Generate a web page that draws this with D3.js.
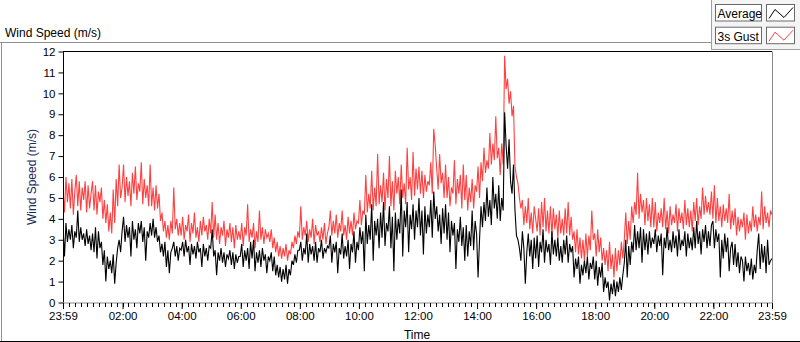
<!DOCTYPE html>
<html><head><meta charset="utf-8">
<script src="https://cdn.jsdelivr.net/npm/d3@7"></script>
<style>
html,body{margin:0;padding:0;background:#fff;}
svg{display:block;font-family:"Liberation Sans",Arial,sans-serif;}
</style></head>
<body><svg id="c" width="800" height="342"></svg>
<script>
// ---- data: values every 3 minutes from 23:59 to 23:59 next day (20 per hour) ----
const gust = [
 5.4,4.3,6.0,4.8,5.7,4.5,5.9,4.2,5.3,6.1,4.6,5.8,4.4,5.5,4.9,5.8,4.3,5.6,4.5,5.2,
 5.8,4.4,5.6,4.2,5.3,4.8,5.5,4.0,4.9,3.8,4.7,3.4,4.3,3.3,5.4,3.8,5.9,4.6,6.6,5.0,
 5.5,6.6,4.8,6.0,5.1,5.8,4.6,6.2,5.2,6.5,4.9,5.7,5.3,6.7,4.7,5.9,5.0,5.6,4.6,6.6,
 4.6,5.5,4.4,5.6,4.5,5.2,3.9,4.3,3.4,3.9,3.1,3.7,3.0,3.9,3.3,5.5,3.5,4.0,3.2,3.8,
 3.2,4.1,3.0,3.7,3.4,4.2,2.9,3.8,3.3,4.3,3.1,3.6,2.9,3.9,3.2,4.1,3.4,3.7,3.0,4.0,
 3.3,4.8,3.1,4.2,3.0,3.8,2.8,3.6,3.2,3.9,2.7,3.5,3.1,3.8,2.9,3.6,2.6,3.7,3.0,3.4,
 3.0,3.8,2.7,3.6,3.2,4.7,2.9,3.5,3.1,3.8,2.6,3.4,2.9,4.4,3.0,3.6,2.8,3.5,3.1,3.3,
 2.9,3.5,2.6,3.1,2.4,2.9,2.2,2.7,2.1,2.6,2.2,2.8,2.0,2.5,2.3,2.9,2.6,3.2,2.8,3.4,
 3.1,4.6,3.0,3.6,3.2,3.9,2.9,3.5,3.1,4.0,2.8,3.7,3.2,3.4,2.9,3.6,3.0,3.8,2.8,3.3,
 3.6,4.4,3.2,3.9,3.3,4.2,3.1,3.8,3.4,4.4,3.2,3.7,3.0,4.1,3.3,3.9,3.2,4.3,3.5,3.9,
 3.8,4.9,3.7,4.4,4.2,6.1,4.3,5.2,4.5,6.3,4.4,5.5,4.6,7.1,4.7,5.6,4.8,6.2,4.4,5.9,
 5.0,7.0,4.6,5.8,4.4,6.3,5.2,6.0,4.7,6.6,5.0,5.7,4.7,7.4,5.4,6.0,4.9,7.2,5.1,6.4,
 5.4,6.5,5.2,6.3,5.0,6.1,5.3,5.8,5.6,6.7,5.2,8.3,7.5,6.4,5.4,7.1,5.7,6.2,5.0,6.6,
 5.0,6.0,4.6,5.5,5.2,6.8,4.7,5.9,5.2,6.1,4.5,6.6,4.9,6.1,4.4,5.5,4.8,5.9,4.5,5.6,
 5.3,6.5,5.0,6.7,5.8,7.4,6.2,6.8,6.4,8.1,6.6,7.6,6.8,8.9,6.9,7.4,6.1,7.6,6.6,11.8,
 10.2,10.7,9.5,10.1,8.9,9.4,6.5,6.0,5.7,5.0,4.5,4.9,3.7,4.6,3.8,5.0,3.5,4.3,3.3,4.6,
 4.0,3.4,4.5,3.2,4.8,3.6,5.0,3.4,4.4,3.3,4.6,3.2,4.5,3.5,4.2,3.1,4.4,3.3,4.0,3.2,
 4.5,3.3,4.8,3.2,4.1,3.0,3.4,2.4,3.5,2.3,3.1,2.1,3.0,2.0,3.3,2.2,3.2,2.5,4.4,3.0,
 3.3,2.2,3.5,2.4,3.1,2.0,2.6,1.8,2.5,1.5,2.9,1.6,2.3,1.2,2.6,1.5,2.5,1.8,2.9,2.1,
 3.0,4.3,2.8,3.9,3.0,4.6,3.8,4.8,4.2,6.2,4.0,5.2,4.3,4.9,3.7,5.0,3.9,4.7,3.6,5.0,
 3.6,4.8,3.4,4.3,3.8,4.5,3.6,5.0,3.5,4.4,3.3,4.6,3.7,4.2,3.8,4.7,3.4,4.5,3.8,4.3,
 3.5,4.9,3.7,4.5,3.6,4.4,3.4,4.8,3.9,5.0,3.7,4.6,4.0,5.5,4.2,5.1,4.3,4.8,4.2,5.3,
 4.0,5.6,3.8,5.0,3.9,4.6,3.6,4.7,3.9,4.5,3.8,5.2,3.5,4.4,3.7,4.5,3.2,4.1,3.4,4.0,
 3.6,4.3,3.0,4.2,3.3,3.9,3.4,4.6,3.6,4.2,3.4,4.1,3.7,5.3,3.5,4.6,3.8,4.3,3.6,4.4,
 4.2];
const average = [
 3.6,2.2,3.8,2.9,3.5,3.0,3.7,2.6,3.4,3.1,4.4,2.9,3.6,3.0,3.3,2.7,3.5,2.8,3.2,2.5,
 3.3,2.4,3.6,2.1,3.4,2.6,2.9,1.8,2.5,1.0,2.2,1.6,2.0,1.4,2.3,0.9,1.9,2.6,3.0,2.4,
 3.4,4.1,2.9,3.7,3.1,3.6,2.2,3.9,3.0,3.5,2.6,3.8,3.3,3.9,2.9,3.6,2.0,3.4,3.1,3.8,
 3.2,4.0,3.1,3.6,2.9,3.2,2.4,2.8,2.2,2.9,1.7,2.5,1.4,2.4,2.6,2.9,2.2,2.7,2.0,2.6,
 2.5,2.9,2.2,3.0,2.4,2.7,1.8,2.8,2.3,2.7,2.1,2.9,2.4,2.6,1.7,2.8,2.2,2.6,2.0,2.7,
 2.6,3.5,2.2,2.5,1.3,2.4,2.0,2.6,1.9,2.4,1.7,2.3,2.1,2.5,1.8,2.4,1.6,2.3,1.9,2.2,
 2.2,2.8,1.7,2.5,2.0,2.6,1.6,2.9,2.1,3.0,1.5,2.4,1.9,2.5,1.7,2.6,2.0,2.3,1.4,2.2,
 2.0,2.4,1.5,2.2,1.3,1.8,1.2,1.7,1.0,1.6,1.1,1.8,0.9,1.6,1.3,2.0,1.8,2.3,1.9,2.5,
 2.5,2.9,2.0,2.6,2.3,3.3,1.9,2.8,2.3,2.7,2.0,2.9,1.9,2.6,2.4,3.0,2.1,2.6,2.4,2.7,
 2.6,3.2,1.9,2.8,2.4,2.9,1.4,2.6,2.3,3.3,2.1,2.7,2.2,3.0,1.6,2.8,2.4,3.4,1.9,2.9,
 2.5,3.6,2.8,3.4,1.5,4.2,2.8,3.7,3.0,4.7,2.0,3.9,3.2,4.0,2.6,4.3,3.1,4.8,2.7,3.8,
 3.4,4.6,2.6,4.1,1.5,4.3,3.0,4.0,3.3,5.4,2.2,4.4,3.6,4.8,2.4,4.2,3.5,4.7,3.0,4.4,
 3.6,5.0,3.2,4.4,2.3,4.6,3.3,4.2,3.6,4.9,3.1,5.3,4.0,4.6,3.4,4.2,2.8,4.5,3.3,4.7,
 3.0,4.3,2.4,3.9,3.2,3.8,1.6,3.5,2.9,4.1,2.7,3.6,2.0,3.7,2.2,3.4,2.7,4.4,2.5,3.9,
 3.3,1.2,3.0,4.6,3.6,4.8,3.9,5.5,4.1,4.9,3.7,6.0,4.5,5.2,4.0,5.6,3.9,5.0,4.4,9.1,
 7.5,6.4,7.8,5.8,5.2,6.6,4.4,3.2,3.0,2.6,2.0,3.4,2.6,0.9,2.4,3.3,2.2,3.0,1.6,3.1,
 2.1,3.2,1.7,2.9,2.4,3.5,1.9,3.0,2.4,2.8,1.8,3.4,2.3,3.0,2.2,3.1,2.0,2.7,1.9,3.0,
 2.3,3.2,1.9,2.8,2.4,2.7,1.2,2.1,1.6,2.2,0.9,1.8,1.3,2.0,1.4,2.2,1.1,1.9,1.6,2.2,
 1.1,2.0,0.8,1.7,1.2,1.9,0.5,1.2,0.7,1.0,0.1,0.9,0.4,1.1,0.3,1.0,0.5,1.2,0.6,1.3,
 1.9,3.0,1.2,2.7,1.8,2.9,2.4,3.7,2.5,3.4,2.6,3.6,1.9,3.5,2.5,3.3,2.3,3.4,2.6,3.1,
 2.8,3.5,2.4,3.2,2.7,3.3,1.3,3.1,2.6,3.6,2.5,3.0,2.4,3.4,2.6,3.2,2.2,3.5,2.5,3.0,
 2.7,3.4,2.2,3.3,2.6,3.1,2.5,3.6,2.6,3.9,2.8,3.4,2.3,3.5,2.9,3.7,2.6,3.4,2.7,3.7,
 3.9,2.6,3.5,2.9,3.3,1.2,3.0,2.1,3.3,2.4,3.1,1.5,2.6,2.9,1.8,2.8,1.7,2.4,1.4,2.2,
 2.0,1.0,2.2,1.5,1.9,1.3,2.1,1.1,1.8,1.4,2.5,3.3,1.6,2.8,1.9,2.7,1.4,3.0,1.8,2.0,
 2.1];
const xTickLabels = ["23:59","02:00","04:00","06:00","08:00","10:00","12:00","14:00","16:00","18:00","20:00","22:00","23:59"];
const yTicks = [0,1,2,3,4,5,6,7,8,9,10,11,12];
const seriesNames = ["Average","3s Gust"];
const stepMinutes = 3;

// ---- layout ----
const svg = d3.select("#c");
const L = 63, R = 772, T = 51.5, B = 302.5;
const t0 = new Date(2000,0,1,23,59);
const t1 = new Date(2000,0,2,23,59);
const x = d3.scaleTime().domain([t0,t1]).range([L,R]);
const y = d3.scaleLinear().domain([0,12]).range([B,T]);
const timeAt = i => new Date(t0.getTime() + i*stepMinutes*60000);

// panel frame
svg.append("rect").attr("x",711.5).attr("y",-1).attr("width",90).attr("height",50.5)
  .attr("fill","#f4f4f4").attr("stroke","#a0a0a0");
svg.append("line").attr("x1",0).attr("x2",711.5).attr("y1",42.5).attr("y2",42.5).attr("stroke","#909090");
svg.append("line").attr("x1",1.5).attr("x2",1.5).attr("y1",42.5).attr("y2",342).attr("stroke","#909090");
svg.append("line").attr("x1",0).attr("x2",800).attr("y1",341.5).attr("y2",341.5).attr("stroke","#000");

svg.append("text").attr("x",5).attr("y",37).attr("font-size",12).attr("fill","#000").text("Wind Speed (m/s)");

// plot background
svg.append("rect").attr("x",L).attr("y",T).attr("width",R-L).attr("height",B-T).attr("fill","#fff");
svg.append("clipPath").attr("id","clip").append("rect").attr("x",L).attr("y",T).attr("width",R-L).attr("height",B-T);

const line = d3.line().x((d,i)=>x(timeAt(i))).y(d=>y(d));
const g = svg.append("g").attr("clip-path","url(#clip)");
g.append("path").datum(gust).attr("d",line).attr("fill","none").attr("stroke","#ff4040").attr("stroke-width",1.1);
g.append("path").datum(average).attr("d",line).attr("fill","none").attr("stroke","#000").attr("stroke-width",1.1);

// plot frame: top/left dark, bottom/right gray
svg.append("line").attr("x1",L).attr("x2",R).attr("y1",T).attr("y2",T).attr("stroke","#000");
svg.append("line").attr("x1",L+0.5).attr("x2",L+0.5).attr("y1",T).attr("y2",B).attr("stroke","#000");
svg.append("line").attr("x1",L).attr("x2",R+0.5).attr("y1",B+0.5).attr("y2",B+0.5).attr("stroke","#8a8a8a");
svg.append("line").attr("x1",R+0.5).attr("x2",R+0.5).attr("y1",T).attr("y2",B+0.5).attr("stroke","#8a8a8a");

// y axis
const yAxis = d3.axisLeft(y).tickValues(yTicks).tickSize(5).tickPadding(3).tickFormat(d3.format("d"));
const ya = svg.append("g").attr("transform",`translate(${L+0.5},0)`).call(yAxis);
ya.select(".domain").remove();
ya.selectAll("text").attr("font-size",11.5).attr("fill","#000").attr("font-family","Liberation Sans, Arial, sans-serif");
ya.selectAll("line").attr("stroke","#000");

// x axis major
const majorTimes = xTickLabels.map((s,i)=> i===0 ? t0 : (i===xTickLabels.length-1 ? t1 : new Date(2000,0,2,2*i,0)));
const xAxis = d3.axisBottom(x).tickValues(majorTimes).tickSize(6).tickPadding(3)
  .tickFormat((d,i)=>xTickLabels[i]);
const xa = svg.append("g").attr("transform",`translate(0,${B+0.5})`).call(xAxis);
xa.select(".domain").remove();
xa.selectAll("text").attr("font-size",11.5).attr("fill","#000").attr("font-family","Liberation Sans, Arial, sans-serif");
xa.selectAll("line").attr("stroke","#000");
// minor ticks every 12 minutes
const minor = d3.timeMinute.every(12).range(new Date(t0.getTime()+60000), t1);
svg.append("g").selectAll("line").data(minor).join("line")
  .attr("x1",d=>Math.round(x(d))+0.5).attr("x2",d=>Math.round(x(d))+0.5)
  .attr("y1",B+0.5).attr("y2",B+4.5).attr("stroke","#000");

// axis titles
svg.append("text").attr("x",417).attr("y",339).attr("text-anchor","middle").attr("font-size",12).attr("fill","#000").text("Time");
svg.append("text").attr("transform","translate(36,177) rotate(-90)").attr("text-anchor","middle")
  .attr("font-size",12).attr("fill","#1a2a58").text("Wind Speed (m/s)");

// legend
const legColors = ["#000","#ff4040"];
seriesNames.forEach((name,i)=>{
  const yy = 4.5 + i*22.7;
  svg.append("rect").attr("x",715.5).attr("y",yy).attr("width",46).attr("height",16.5)
    .attr("fill","#fff").attr("stroke","#6a6a6a");
  svg.append("text").attr("x",717.5).attr("y",yy+13.5).attr("font-size",12).attr("fill","#000").text(name);
  svg.append("rect").attr("x",766.5).attr("y",yy).attr("width",28).attr("height",16.5)
    .attr("fill","#fff").attr("stroke","#6a6a6a");
  const pts = [[769,yy+14],[775,yy+5],[784,yy+13],[793,yy+3]];
  svg.append("path").attr("d",d3.line()(pts)).attr("fill","none").attr("stroke",legColors[i]).attr("stroke-width",1);
});
</script></body></html>
